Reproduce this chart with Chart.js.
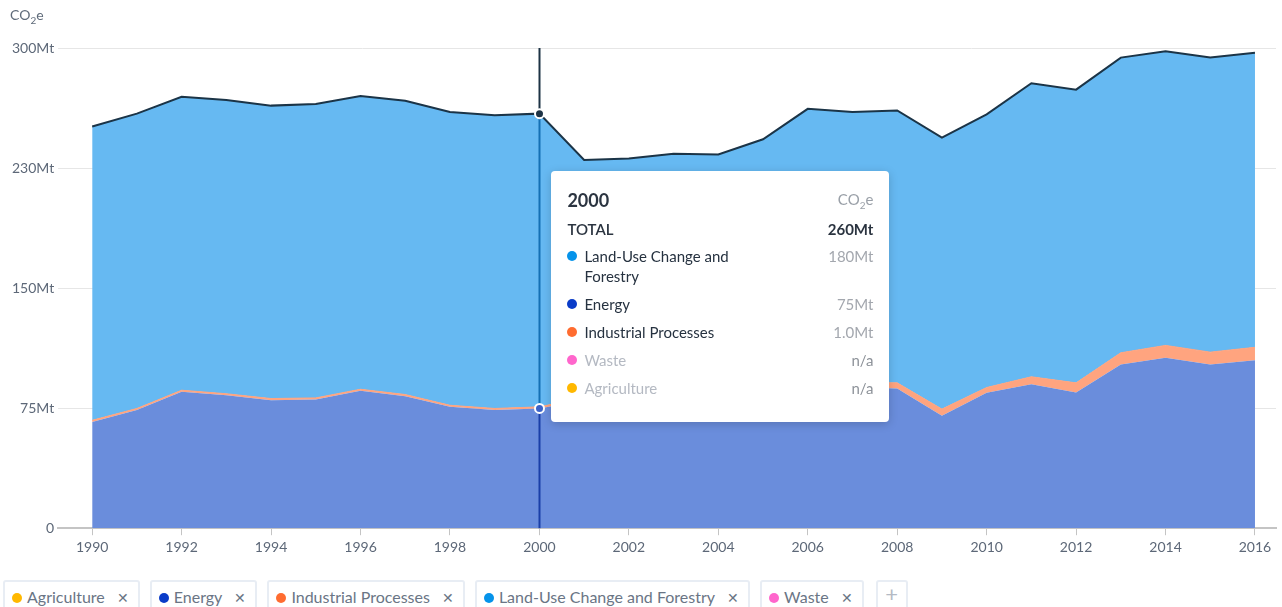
<!DOCTYPE html>
<html>
<head>
<meta charset="utf-8">
<script src="https://cdn.jsdelivr.net/npm/chart.js@4.4.1/dist/chart.umd.min.js"></script>
<style>
  html, body { margin: 0; padding: 0; background: #fff; font-family: Lato, "Open Sans", sans-serif; }
  #wrap { position: relative; width: 1282px; height: 607px; overflow: hidden; }
  #box { position: absolute; left: 0; top: 0; width: 1282px; height: 564px; }
  #unit { position: absolute; left: 10px; top: 6px; font-size: 14px; color: #5f6b7a; }
  #tip { position: absolute; width: 306px; background: #fff; border-radius: 4px;
         box-shadow: 0 2px 10px rgba(0,0,0,0.18); padding: 17px 16px 16px 16px; box-sizing: content-box; color: #263240; }
  .trow { display: flex; justify-content: space-between; align-items: flex-start; }
  .yr { font-size: 18px; font-weight: 700; color: #2b3440; height: 30px; line-height: 24px; }
  .u { font-size: 15px; color: #9aa0a8; line-height: 22px; }
  .tot { font-size: 15px; font-weight: 700; color: #2b3440; height: 28px; line-height: 22px; }
  .tot.l { font-weight: 600; }
  .ser { font-size: 15px; line-height: 20px; margin-bottom: 8px; }
  .ser .lab { display: flex; width: 200px; }
  .dot { display: inline-block; width: 10px; height: 10px; border-radius: 50%; margin: 5px 7px 0 0; flex: none; }
  .val { color: #a3a7ae; }
  .na .lab { color: #b4b9c2; }
  .na .val { color: #8d9299; }
  #legend { position: absolute; left: 3px; top: 580px; display: flex; }
  .lg { border: 2px solid #e8edf4; border-radius: 3px; height: 34px; box-sizing: border-box; padding: 5px 9px 0 7px;
        font-size: 16px; color: #6a7585; margin-right: 10px; white-space: nowrap; }
  .lg .dot { margin: 0 5px 0 0; }
  .lg .x { margin-left: 12px; color: #6a7585; font-size: 14px; }
  .plus { border: 2px solid #e8edf4; border-radius: 3px; height: 34px; width: 32px; box-sizing: border-box;
          text-align: center; color: #b4bac4; font-size: 22px; line-height: 24px; margin-left: 2px; }
</style>
</head>
<body>
<div id="wrap">
  <div id="box"><canvas id="c"></canvas></div>
  <div id="unit">CO<sub style="font-size:10px">2</sub>e</div>
  <div id="tip"></div>
  <div id="legend"></div>
</div>
<script>
const years = [1990,1991,1992,1993,1994,1995,1996,1997,1998,1999,2000,2001,2002,2003,2004,2005,2006,2007,2008,2009,2010,2011,2012,2013,2014,2015,2016];
const energy = [66.4,73.8,85.2,83,80,80.4,85.8,82.5,75.8,73.8,74.8,80,80,82,83,86,90,88,87.3,70.2,84.6,90,84.8,102.3,106.5,102.3,105];
const industrial = [1,1,1,1,1,1,1,1,1,1,1,1.5,1.8,2,2.2,2.5,3,3,3.5,4.2,3.3,4.6,6,7.3,7.7,7.7,8];
const total = [251,259,269.5,267.5,264,265,270,267,260,258,259,230,231,234,233.5,243,262,260,261,244,258.5,278,274,294,298,294,297];
const landUse = total.map((t, i) => +(t - energy[i] - industrial[i]).toFixed(2));
const yTickValues = [0,75,150,225,300];
const yTickLabels = ['0','75Mt','150Mt','230Mt','300Mt'];
const xTickYears = [1990,1992,1994,1996,1998,2000,2002,2004,2006,2008,2010,2012,2014,2016];
const legendNames = ['Agriculture','Energy','Industrial Processes','Land-Use Change and Forestry','Waste'];
const legendColors = ['#ffb800','#0a3cc8','#ff6c30','#0593ea','#ff66cc'];
const hoverYear = 2000;
const tipRows = [
  {name:'Land-Use Change and Forestry', color:'#0593ea', val:'180Mt', na:false},
  {name:'Energy', color:'#0a3cc8', val:'75Mt', na:false},
  {name:'Industrial Processes', color:'#ff6c30', val:'1.0Mt', na:false},
  {name:'Waste', color:'#ff66cc', val:'n/a', na:true},
  {name:'Agriculture', color:'#ffb800', val:'n/a', na:true}
];

const pts = arr => years.map((y, i) => ({x: y, y: arr[i]}));

// legend
const lg = document.getElementById('legend');
legendNames.forEach((n, i) => {
  const d = document.createElement('div'); d.className = 'lg';
  d.innerHTML = '<span class="dot" style="background:' + legendColors[i] + '"></span>' + n + '<span class="x">✕</span>';
  lg.appendChild(d);
});
const pl = document.createElement('div'); pl.className = 'plus'; pl.textContent = '+'; lg.appendChild(pl);

// tooltip content
const tip = document.getElementById('tip');
let html = '<div class="trow"><div class="yr">' + hoverYear + '</div><div class="u">CO<sub style="font-size:10px">2</sub>e</div></div>';
html += '<div class="trow"><div class="tot l">TOTAL</div><div class="tot">260Mt</div></div>';
tipRows.forEach(r => {
  html += '<div class="trow ser' + (r.na ? ' na' : '') + '"><div class="lab"><span class="dot" style="background:' + r.color + '"></span><span>' + r.name + '</span></div><div class="val">' + r.val + '</div></div>';
});
tip.innerHTML = html;

const hoverPlugin = {
  id: 'hover',
  afterDatasetsDraw(chart) {
    const ctx = chart.ctx, xs = chart.scales.x, ys = chart.scales.y;
    const i = years.indexOf(hoverYear);
    const x = Math.round(xs.getPixelForValue(hoverYear)) + 0.5;
    const yTop = ys.getPixelForValue(total[i]);
    const yE = ys.getPixelForValue(energy[i]);
    const y0 = ys.getPixelForValue(0);
    ctx.save();
    ctx.lineWidth = 2;
    ctx.strokeStyle = '#1d3345';
    ctx.beginPath(); ctx.moveTo(x, chart.chartArea.top); ctx.lineTo(x, yTop); ctx.stroke();
    ctx.strokeStyle = '#1470b4';
    ctx.beginPath(); ctx.moveTo(x, yTop); ctx.lineTo(x, yE); ctx.stroke();
    ctx.strokeStyle = '#1a3fa8';
    ctx.beginPath(); ctx.moveTo(x, yE); ctx.lineTo(x, y0); ctx.stroke();
    ctx.lineWidth = 2;
    ctx.fillStyle = '#1d3345'; ctx.strokeStyle = '#fff';
    ctx.beginPath(); ctx.arc(x, yTop, 4.5, 0, Math.PI * 2); ctx.fill(); ctx.stroke();
    ctx.fillStyle = '#3a62c8';
    ctx.beginPath(); ctx.arc(x, yE, 4.5, 0, Math.PI * 2); ctx.fill(); ctx.stroke();
    ctx.restore();
    tip.style.left = (xs.getPixelForValue(hoverYear) + 12) + 'px';
    tip.style.top = (ys.getPixelForValue(223)) + 'px';
  }
};

new Chart(document.getElementById('c'), {
  type: 'line',
  data: {
    datasets: [
      {label:'Energy', data: pts(energy), backgroundColor:'#6a8ddc', borderColor:'#6a8ddc', borderWidth:0, fill:'origin', pointRadius:0, tension:0},
      {label:'Industrial Processes', data: pts(industrial), backgroundColor:'#ffa47f', borderColor:'#ffa47f', borderWidth:1, fill:'-1', pointRadius:0, tension:0},
      {label:'Land-Use Change and Forestry', data: pts(landUse), backgroundColor:'#66b9f2', borderColor:'#1b3447', borderWidth:2, fill:'-1', pointRadius:0, tension:0}
    ]
  },
  options: {
    responsive: true, maintainAspectRatio: false, animation: false,
    events: [],
    layout: { padding: { top: 48, left: 8, right: 6, bottom: 4 } },
    plugins: { legend: { display: false }, tooltip: { enabled: false } },
    scales: {
      x: {
        type: 'linear', min: 1989.24, max: 2016.47,
        afterBuildTicks: s => { s.ticks = xTickYears.map(v => ({value: v})); },
        grid: { drawOnChartArea: false, drawTicks: true, tickLength: 7, color: '#c4c4c4' },
        border: { color: '#c4c4c4', width: 2 },
        ticks: { color: '#5d6878', font: { family: 'Lato', size: 14 }, padding: 4, maxRotation: 0, autoSkip: false, callback: v => String(v) }
      },
      y: {
        stacked: true, min: 0, max: 300,
        afterBuildTicks: s => { s.ticks = yTickValues.map(v => ({value: v})); },
        grid: { color: '#e6e6e6', drawTicks: false },
        border: { display: false },
        ticks: { color: '#5d6878', font: { family: 'Lato', size: 14 }, padding: 4,
                 callback: (v) => yTickLabels[yTickValues.indexOf(v)] }
      }
    }
  },
  plugins: [hoverPlugin]
});
</script>
</body>
</html>
